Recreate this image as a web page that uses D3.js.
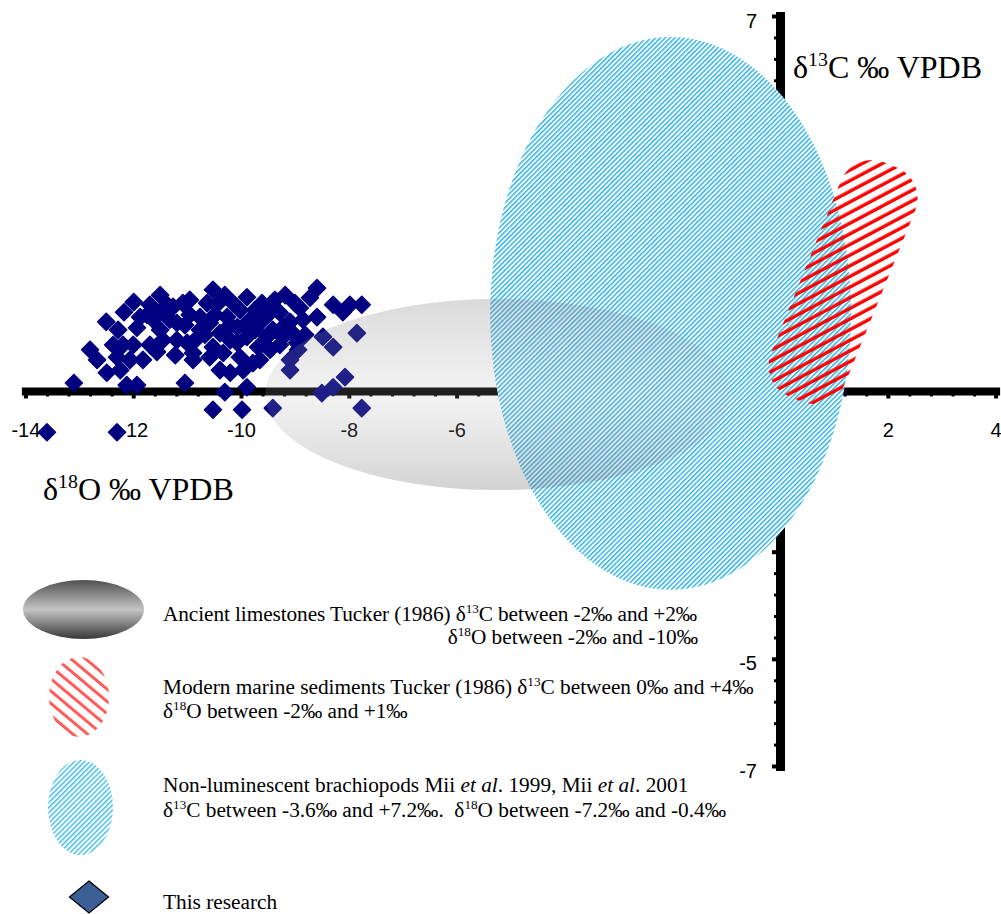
<!DOCTYPE html>
<html><head><meta charset="utf-8">
<script src="https://cdn.jsdelivr.net/npm/d3@7"></script>
<style>html,body{margin:0;padding:0;background:#fff;overflow:hidden}svg{display:block}text{white-space:pre}</style>
</head><body><svg id="chart" width="1001" height="914"></svg>
<script>
// ---- data ----
const d18O = [-13.60,-12.30,-13.10,-12.50,-12.17,-11.99,-11.50,-12.80,-12.67,-12.49,-12.37,-12.19,-12.00,-12.24,-12.12,-11.93,-11.82,-11.74,-11.50,-11.87,-11.63,-11.32,-11.26,-11.08,-11.45,-11.19,-11.00,-10.89,-11.04,-10.52,-10.63,-10.45,-10.15,-9.89,-9.18,-9.46,-11.19,-10.76,-10.58,-10.26,-10.07,-9.83,-9.28,-9.41,-9.22,-10.39,-10.89,-10.52,-10.33,-10.07,-9.89,-9.68,-9.46,-10.39,-10.20,-9.96,-9.78,-10.30,-9.89,-10.52,-9.98,-9.41,-8.59,-8.72,-8.29,-7.98,-7.76,-8.11,-8.59,-9.09,-9.52,-9.22,-8.96,-9.04,-8.48,-8.29,-7.85,-8.94,-9.09,-9.09,-8.07,-8.29,-8.50,-7.76,-9.59,-10.02,-9.61,-10.76,-11.50,-11.93,-11.69,-12.30,-8.91,-10.20,-10.95,
  -10.95,-10.30,-10.02,-9.74,-10.85,-10.67,-10.20,-9.74,-9.55,-9.28,-8.85,-9.37,-9.00,-11.37,-11.69,-12.28,-12.06,-11.56,-11.22,-10.58,-9.93,-11.04,-10.48,-9.65,-8.81];
const d13C = [-0.77,-0.77,0.15,1.29,1.47,1.66,1.79,0.77,0.58,0.34,0.86,0.86,0.86,0.39,0.11,0.11,0.58,1.42,1.47,1.38,1.33,1.33,1.57,1.64,0.95,0.95,0.90,0.58,0.15,1.89,1.64,1.61,1.64,1.75,1.79,1.46,1.27,1.38,1.27,1.38,1.19,1.33,1.46,1.14,1.19,1.08,0.71,0.82,0.71,0.90,1.01,0.82,0.77,0.39,0.34,0.39,0.52,-0.02,0.07,-0.35,-0.35,-0.32,1.92,1.74,1.61,1.61,1.61,1.47,1.38,1.29,1.01,1.01,0.90,1.08,1.01,0.82,1.08,0.77,0.58,0.39,0.26,0.07,-0.04,-0.32,1.33,0.63,1.64,1.14,1.14,1.18,0.86,0.63,1.55,1.23,1.42,
  1.70,1.79,1.51,1.51,0.95,1.05,0.95,1.14,0.86,0.86,1.33,1.70,1.64,1.61,1.61,1.14,0.58,0.73,0.67,0.63,1.23,1.23,1.42,0.58,1.05];
const xTicks = [-14,-12,-10,-8,-6,-4,-2,0,2,4];
const yTicks = [-7,-5,-3,-1,1,3,5,7];
const yTickLabels = ["-7","-5","","","","","","7"];   // others lie under the brachiopod field
// field outlines (in ‰ units)
const limestone  = {x0:-9.55, x1:-0.93, y0:-1.85, y1:1.72};
const brachiopod = {x0:-5.38, x1:1.32, y0:-3.71, y1:6.61};
const modern     = {x0:0.29, y0:-0.15, x1:2.05, y1:4.22};
const legendTexts = [
  [[{t:"Ancient limestones Tucker (1986) δ"},{t:"13",sup:1},{t:"C between -2‰ and +2‰"}],
   [{t:"δ"},{t:"18",sup:1},{t:"O between -2‰ and -10‰"}]],
  [[{t:"Modern marine sediments Tucker (1986) δ"},{t:"13",sup:1},{t:"C between 0‰ and +4‰"}],
   [{t:"δ"},{t:"18",sup:1},{t:"O between -2‰ and +1‰"}]],
  [[{t:"Non-luminescent brachiopods Mii "},{t:"et al",it:1},{t:". 1999, Mii "},{t:"et al",it:1},{t:". 2001"}],
   [{t:"δ"},{t:"13",sup:1},{t:"C between -3.6‰ and +7.2‰.  δ"},{t:"18",sup:1},{t:"O between -7.2‰ and -0.4‰"}]],
  [[{t:"This research"}]]
];
const xTitle = [{t:"δ"},{t:"18",sup:1},{t:"O ‰ VPDB"}];
const yTitle = [{t:"δ"},{t:"13",sup:1},{t:"C ‰ VPDB"}];

// ---- drawing ----
const svg = d3.select("#chart");
const x = d3.scaleLinear().domain([-14, 4]).range([25.4, 995.6]);
const y = d3.scaleLinear().domain([-7, 7]).range([766, 16]);
const SERIF = "'Liberation Serif','Times New Roman',serif";
const SANS = "'Liberation Sans',Arial,sans-serif";

const defs = svg.append("defs");
function stripes(id, period, lw, color, angle, bg) {
  const p = defs.append("pattern").attr("id", id).attr("patternUnits", "userSpaceOnUse")
    .attr("width", period).attr("height", period).attr("patternTransform", `rotate(${angle})`);
  if (bg) p.append("rect").attr("width", period).attr("height", period).attr("fill", bg);
  p.append("rect").attr("x", 0).attr("y", 0).attr("width", lw).attr("height", period).attr("fill", color);
}
stripes("blueHatch", 3.4, 1.45, "#2ab4ea", 45, "#fff");
stripes("redHatch", 9.4, 3.4, "#ff0000", -50, null);
stripes("blueHatchL", 3.6, 1.5, "#45c0ee", 45, "#fff");
stripes("redHatchL", 9.4, 3.0, "#ff5a5a", -50, "#fff");

const gGrey = defs.append("linearGradient").attr("id", "greyFade").attr("x1", 0).attr("y1", 0).attr("x2", 0).attr("y2", 1);
[[0,"#7a7a7a",0.28],[0.5,"#b4b4b4",0.17],[1,"#6a6a6a",0.30]].forEach(s =>
  gGrey.append("stop").attr("offset", s[0]).attr("stop-color", s[1]).attr("stop-opacity", s[2]));
const gGreyL = defs.append("linearGradient").attr("id", "greySolid").attr("x1", 0).attr("y1", 0).attr("x2", 0).attr("y2", 1);
[[0,"#505050"],[0.5,"#c4c4c4"],[1,"#383838"]].forEach(s =>
  gGreyL.append("stop").attr("offset", s[0]).attr("stop-color", s[1]));

// axes
const xAxis = svg.append("g").attr("transform", `translate(0,${y(0)})`)
  .call(d3.axisBottom(x).tickValues(xTicks).tickSize(7.5).tickSizeOuter(0).tickFormat(d => String(d)));
xAxis.select(".domain").attr("stroke", "#000").attr("stroke-width", 8).attr("stroke-linecap", "square");
xAxis.selectAll(".tick line").attr("stroke", "#000").attr("stroke-width", 4);
xAxis.selectAll(".tick text").attr("y", 46).attr("dy", 0).attr("font-family", SANS).attr("font-size", 20).attr("fill", "#000");
const xMinor = svg.append("g").attr("transform", `translate(0,${y(0)})`)
  .call(d3.axisBottom(x).tickValues(d3.range(-14, 4.01, 0.4)).tickSize(5.5).tickSizeOuter(0).tickFormat(""));
xMinor.select(".domain").remove();
xMinor.selectAll(".tick line").attr("stroke", "#000").attr("stroke-width", 3);

const yAxis = svg.append("g").attr("transform", `translate(${x(0)},0)`)
  .call(d3.axisLeft(y).tickValues(yTicks).tickSize(8).tickSizeOuter(0).tickFormat((d, i) => yTickLabels[i]));
yAxis.select(".domain").attr("stroke", "#000").attr("stroke-width", 9).attr("stroke-linecap", "square");
yAxis.selectAll(".tick line").attr("stroke", "#000").attr("stroke-width", 4);
yAxis.selectAll(".tick text").attr("x", -23).attr("y", 11).attr("dy", 0).attr("font-family", SANS).attr("font-size", 20).attr("fill", "#000");
const yMinor = svg.append("g").attr("transform", `translate(${x(0)},0)`)
  .call(d3.axisLeft(y).tickValues(d3.range(-7, 7.01, 0.4)).tickSize(6).tickSizeOuter(0).tickFormat(""));
yMinor.select(".domain").remove();
yMinor.selectAll(".tick line").attr("stroke", "#000").attr("stroke-width", 3);

// rich text helper
function rich(sel, px, py, segs, size, anchor, len) {
  const t = sel.append("text").attr("x", px).attr("y", py).attr("font-family", SERIF)
    .attr("font-size", size).attr("fill", "#000").attr("text-anchor", anchor || "start");
  if (len) t.attr("textLength", len).attr("lengthAdjust", "spacing");
  let up = false;
  segs.forEach(s => {
    const sp = t.append("tspan").text(s.t);
    if (s.sup) { sp.attr("font-size", size * 0.62).attr("dy", -size * 0.38); up = true; }
    else if (up) { sp.attr("dy", size * 0.38); up = false; }
    if (s.it) sp.attr("font-style", "italic");
  });
  return t;
}

// data points
const pts = d18O.map((v, i) => ({x: v, y: d13C[i]}));
const diamond = "M0,-8.5L8.5,0L0,8.5L-8.5,0Z";
svg.append("g").selectAll("path").data(pts).join("path")
  .attr("d", diamond).attr("transform", d => `translate(${x(d.x)},${y(d.y)})`)
  .attr("fill", "#000080").attr("stroke", "#000080").attr("stroke-width", 1.6).attr("stroke-linejoin", "round");

// brachiopod field
svg.append("ellipse")
  .attr("cx", (x(brachiopod.x0) + x(brachiopod.x1)) / 2).attr("cy", (y(brachiopod.y0) + y(brachiopod.y1)) / 2)
  .attr("rx", (x(brachiopod.x1) - x(brachiopod.x0)) / 2).attr("ry", (y(brachiopod.y0) - y(brachiopod.y1)) / 2)
  .attr("fill", "url(#blueHatch)");
// ancient limestone field
svg.append("ellipse")
  .attr("cx", (x(limestone.x0) + x(limestone.x1)) / 2).attr("cy", (y(limestone.y0) + y(limestone.y1)) / 2)
  .attr("rx", (x(limestone.x1) - x(limestone.x0)) / 2).attr("ry", (y(limestone.y0) - y(limestone.y1)) / 2)
  .attr("fill", "url(#greyFade)");
// modern marine sediments field (rotated capsule)
{
  const ax = x(modern.x0), ay = y(modern.y0), bx = x(modern.x1), by = y(modern.y1);
  const L = Math.hypot(bx - ax, by - ay), W = 80;
  const ang = Math.atan2(by - ay, bx - ax) * 180 / Math.PI;
  svg.append("rect").attr("x", -L / 2).attr("y", -W / 2).attr("width", L).attr("height", W)
    .attr("rx", 33).attr("ry", 33)
    .attr("transform", `translate(${(ax + bx) / 2},${(ay + by) / 2}) rotate(${ang})`)
    .attr("fill", "url(#redHatch)");
}

// axis titles
rich(svg, 43, 500, xTitle, 32);
rich(svg, 793, 78, yTitle, 32);

// legend
const lg = svg.append("g");
lg.append("ellipse").attr("cx", 83.5).attr("cy", 609.5).attr("rx", 60.5).attr("ry", 29.5).attr("fill", "url(#greySolid)");
lg.append("ellipse").attr("cx", 79).attr("cy", 697).attr("rx", 30).attr("ry", 40).attr("fill", "url(#redHatchL)");
lg.append("ellipse").attr("cx", 80.5).attr("cy", 807.5).attr("rx", 32.5).attr("ry", 47.5).attr("fill", "url(#blueHatchL)");
lg.append("path").attr("d", "M0,-16L19.5,0L0,16L-19.5,0Z").attr("transform", "translate(89,897)")
  .attr("fill", "#3b5e95").attr("stroke", "#000").attr("stroke-width", 1.3);
const LS = 21.3;
rich(lg, 163, 621, legendTexts[0][0], LS, "start", 534);
rich(lg, 698, 644, legendTexts[0][1], LS, "end");
rich(lg, 163, 694, legendTexts[1][0], LS);
rich(lg, 163, 718, legendTexts[1][1], LS);
rich(lg, 163, 792, legendTexts[2][0], LS);
rich(lg, 163, 817, legendTexts[2][1], LS);
rich(lg, 163, 909, legendTexts[3][0], LS);
</script></body></html>
